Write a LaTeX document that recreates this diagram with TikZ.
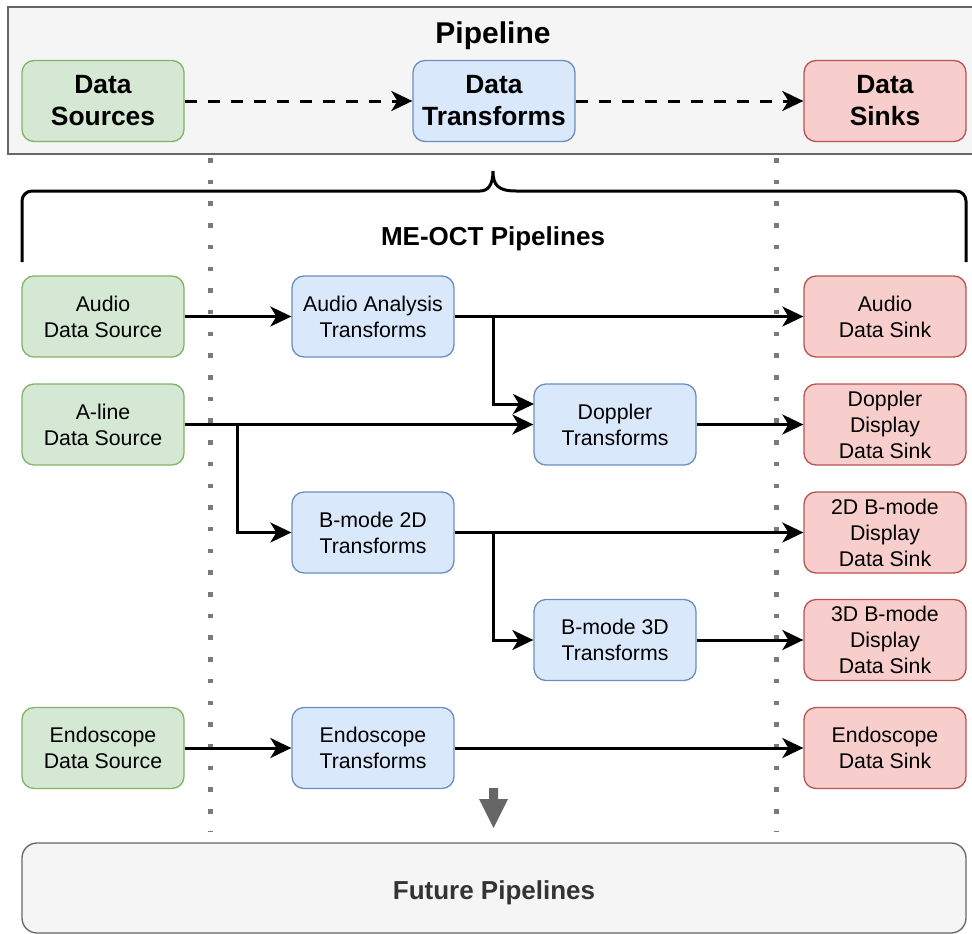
\documentclass[tikz,border=0pt]{standalone}
\usepackage{fontspec}
\setmainfont{Liberation Sans}
\usetikzlibrary{arrows.meta}

\definecolor{srcfill}{HTML}{D5E8D4}
\definecolor{srcline}{HTML}{82B366}
\definecolor{trfill}{HTML}{DAE8FC}
\definecolor{trline}{HTML}{6C8EBF}
\definecolor{snkfill}{HTML}{F8CECC}
\definecolor{snkline}{HTML}{B85450}
\definecolor{panelfill}{HTML}{F5F5F5}
\definecolor{panelline}{HTML}{666666}
\definecolor{dotgray}{HTML}{7A7A7A}
\definecolor{futuretext}{HTML}{333333}

\begin{document}
\begin{tikzpicture}[x=1pt,y=-1pt,
    blk/.style={rounded corners=12pt, line width=1.3pt, minimum width=162pt,
      minimum height=81pt, inner sep=0pt, align=center,
      font=\fontsize{21.3}{26}\selectfont},
    bigblk/.style={blk, font=\fontsize{26.4}{32}\selectfont\bfseries},
    srcbox/.style={fill=srcfill, draw=srcline},
    trbox/.style={fill=trfill, draw=trline},
    sinkbox/.style={fill=snkfill, draw=snkline},
    flow/.style={line width=3pt, -{Stealth[length=21pt,width=20pt,inset=6pt]}},
    dflow/.style={flow, dash pattern=on 12pt off 11pt},
    dotline/.style={draw=dotgray, line width=5pt, dash pattern=on 4.5pt off 17.2pt}]
  \clip (0,0) rectangle (972,934);

  % Generic pipeline panel
  \fill[panelfill, draw=panelline, line width=1.3pt] (8,7) rectangle (990,154);
  \node[font=\fontsize{30}{36}\selectfont\bfseries] (title) at (493,36) {Pipeline};
  \node[bigblk, srcbox] (dsrc) at (103,101) {Data\\Sources};
  \node[bigblk, trbox] (dtr) at (494,101) {Data\\Transforms};
  \node[bigblk, sinkbox] (dsnk) at (885,101) {Data\\Sinks};
  \draw[dflow] (dsrc) -- (dtr);
  \draw[dflow] (dtr) -- (dsnk);

  % Column separators
  \draw[dotline] (210,158) -- (210,832);
  \draw[dotline] (776,158) -- (776,832);

  % Brace over the ME-OCT pipelines
  \draw[line width=3pt] (22,262) [rounded corners=10pt] |- (470,191) [sharp corners]
    .. controls (488,191) and (493,185) .. (493,171)
    .. controls (493,185) and (498,191) .. (516,191) [rounded corners=10pt] -| (966,262);
  \node[font=\fontsize{26}{31}\selectfont\bfseries] (meoct) at (493,239) {ME-OCT Pipelines};

  % Sources
  \node[blk, srcbox] (audsrc) at (103,316.5) {Audio\\Data Source};
  \node[blk, srcbox] (alnsrc) at (103,424.5) {A-line\\Data Source};
  \node[blk, srcbox] (endsrc) at (103,748) {Endoscope\\Data Source};

  % Transforms
  \node[blk, trbox] (audtr) at (373,316.5) {Audio Analysis\\Transforms};
  \node[blk, trbox] (doptr) at (615,424.5) {Doppler\\Transforms};
  \node[blk, trbox] (b2dtr) at (373,532.5) {B-mode 2D\\Transforms};
  \node[blk, trbox] (b3dtr) at (615,640) {B-mode 3D\\Transforms};
  \node[blk, trbox] (endtr) at (373,748) {Endoscope\\Transforms};

  % Sinks
  \node[blk, sinkbox] (audsnk) at (885,316.5) {Audio\\Data Sink};
  \node[blk, sinkbox] (dopsnk) at (885,424.5) {Doppler\\Display\\Data Sink};
  \node[blk, sinkbox] (b2dsnk) at (885,532.5) {2D B-mode\\Display\\Data Sink};
  \node[blk, sinkbox] (b3dsnk) at (885,640) {3D B-mode\\Display\\Data Sink};
  \node[blk, sinkbox] (endsnk) at (885,748) {Endoscope\\Data Sink};

  % Branch points
  \coordinate (audjoin) at (493,316.5);
  \coordinate (dopin) at (534,404);
  \coordinate (alnjoin) at (237,424.5);
  \coordinate (b2djoin) at (493,532.5);

  % Connections
  \draw[flow] (audsrc) -- (audtr);
  \draw[flow] (audtr) -- (audsnk);
  \draw[flow] (audjoin) |- (dopin);
  \draw[flow] (alnsrc) -- (doptr);
  \draw[flow] (alnjoin) |- (b2dtr);
  \draw[flow] (doptr) -- (dopsnk);
  \draw[flow] (b2dtr) -- (b2dsnk);
  \draw[flow] (b2djoin) |- (b3dtr);
  \draw[flow] (b3dtr) -- (b3dsnk);
  \draw[flow] (endsrc) -- (endtr);
  \draw[flow] (endtr) -- (endsnk);

  % More to come
  \fill[panelline] (489,788) -- (498,788) -- (498,799) -- (508,799) -- (493.5,828)
    -- (479,799) -- (489,799) -- cycle;
  \node[blk, fill=panelfill, draw=panelline, rounded corners=15pt, minimum width=944pt,
    minimum height=90pt,
    label={[text=futuretext, font=\fontsize{26}{31}\selectfont\bfseries, yshift=-5pt]center:Future Pipelines}]
    (future) at (494,888) {};
\end{tikzpicture}
\end{document}
